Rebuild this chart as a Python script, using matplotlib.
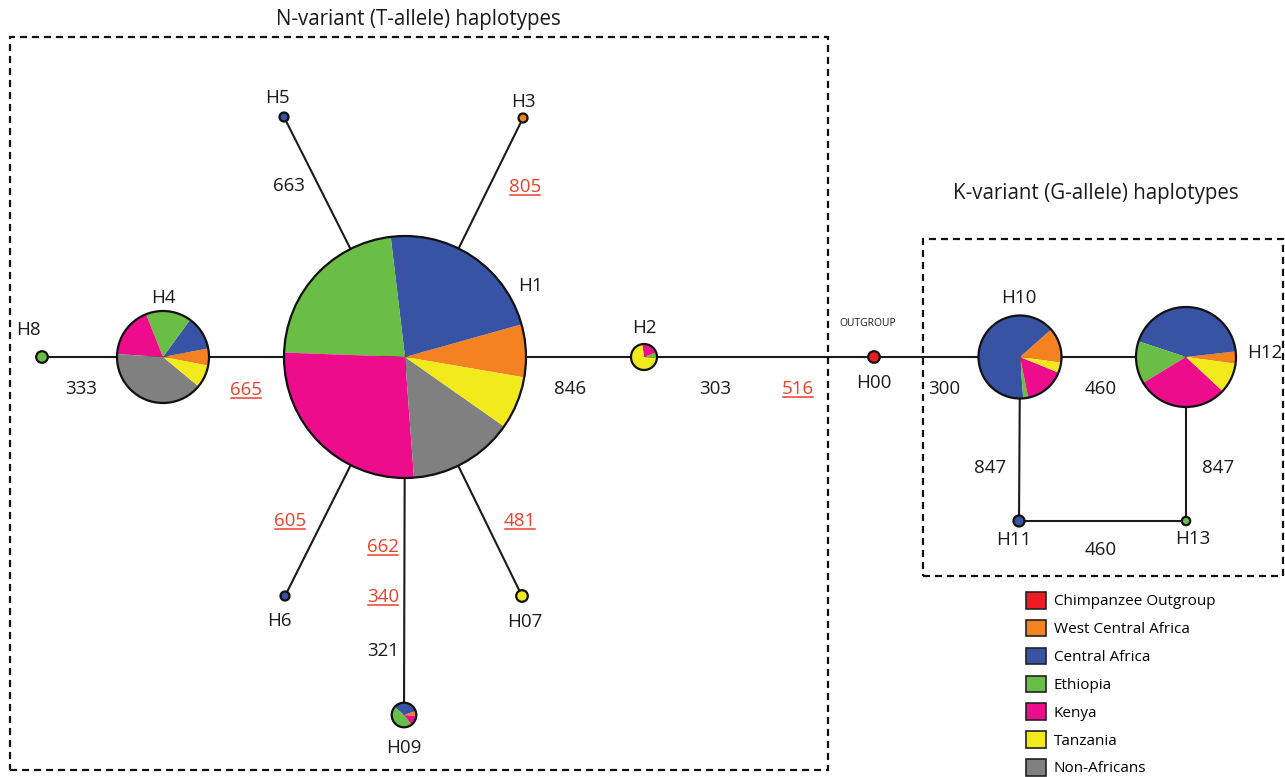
import matplotlib
matplotlib.use("Agg")
import matplotlib.pyplot as plt
from matplotlib.patches import Circle, Rectangle, Patch

plt.rcParams['font.family'] = ['Open Sans', 'DejaVu Sans']

W, H = 1285, 777

# ---------------------------------------------------------------- data
populations = ['Chimpanzee Outgroup', 'West Central Africa', 'Central Africa',
               'Ethiopia', 'Kenya', 'Tanzania', 'Non-Africans']
pop_colors = ['#ED1C24', '#F58220', '#3953A4', '#6ABD45', '#EC0C8C',
              '#F2EA1B', '#808080']
# order in which population wedges are laid around each pie
wedge_order = ['West Central Africa', 'Central Africa', 'Ethiopia', 'Kenya',
               'Non-Africans', 'Tanzania', 'Chimpanzee Outgroup']

haplotypes = ['H1', 'H2', 'H3', 'H4', 'H5', 'H6', 'H07', 'H8', 'H09',
              'H00', 'H10', 'H11', 'H12', 'H13']
# sample counts per population, columns follow `populations`
counts = {
    'H1':  [0, 5, 16, 16, 19, 5, 10],
    'H2':  [0, 0, 0, 1, 3, 10, 0],
    'H3':  [0, 1, 0, 0, 0, 0, 0],
    'H4':  [0, 3, 6, 8, 9, 4, 20],
    'H5':  [0, 0, 1, 0, 0, 0, 0],
    'H6':  [0, 0, 1, 0, 0, 0, 0],
    'H07': [0, 0, 0, 0, 0, 1, 0],
    'H8':  [0, 0, 0, 1, 0, 0, 0],
    'H09': [0, 1, 5, 7, 2, 0, 0],
    'H00': [1, 0, 0, 0, 0, 0, 0],
    'H10': [0, 7, 33, 1, 8, 2, 0],
    'H11': [0, 0, 1, 0, 0, 0, 0],
    'H12': [0, 2, 22, 7, 15, 5, 0],
    'H13': [0, 0, 0, 1, 0, 0, 0],
}

# network edges with the mutation positions that separate the haplotypes
edges = [('H8', 'H4'), ('H4', 'H1'), ('H1', 'H5'), ('H1', 'H3'),
         ('H1', 'H6'), ('H1', 'H07'), ('H1', 'H09'), ('H1', 'H2'),
         ('H2', 'H00'), ('H00', 'H10'), ('H10', 'H12'), ('H10', 'H11'),
         ('H12', 'H13'), ('H11', 'H13')]
mutation_labels = ['333', '665', '663', '805', '605', '481', '662', '340',
                   '321', '846', '303', '516', '300', '460', '847', '847',
                   '460']
mutation_is_nonsyn = [False, True, False, True, True, True, True, True,
                      False, False, False, True, False, False, False, False,
                      False]

# ---------------------------------------------------------------- layout
node_xy = {
    'H1': (405, 357), 'H2': (644, 357), 'H3': (523, 118), 'H4': (163, 357),
    'H5': (284, 117), 'H6': (285, 596), 'H07': (522, 596), 'H8': (42, 357),
    'H09': (404, 715), 'H00': (874, 357), 'H10': (1020, 357),
    'H11': (1019, 521), 'H12': (1186, 357), 'H13': (1186, 521),
}
node_r = {
    'H1': 121, 'H2': 13, 'H3': 4.5, 'H4': 46, 'H5': 4.5, 'H6': 4.5,
    'H07': 5.8, 'H8': 5.8, 'H09': 12.3, 'H00': 5.8, 'H10': 41.5,
    'H11': 5.5, 'H12': 50, 'H13': 4.2,
}
node_start = {'H1': -9.7, 'H2': -5, 'H4': -10.8, 'H09': -5,
              'H10': -7.9, 'H12': -7.7}
node_label_xy = {
    'H1': (530, 286), 'H2': (644, 328), 'H3': (523, 102), 'H4': (163, 298),
    'H5': (277, 98), 'H6': (279, 621), 'H07': (525, 622), 'H8': (28, 330),
    'H09': (404, 748), 'H00': (874, 383), 'H10': (1019, 298),
    'H11': (1014, 540), 'H12': (1265, 353), 'H13': (1193, 539),
}
mutation_label_xy = [(81, 389), (246, 390), (289, 186), (525, 187),
                     (290, 521), (520, 521), (383, 547), (383, 597),
                     (383, 651), (570, 389), (715, 389), (798, 389),
                     (944, 389), (1101, 389), (990, 468), (1218, 468),
                     (1101, 550)]


def fy(py):
    """Top-down layout coordinate to the axes' bottom-up y."""
    return H - py


fig = plt.figure(figsize=(W / 100, H / 100), dpi=100)
ax = fig.add_axes([0, 0, 1, 1])

ink = '#1c1a1b'

# edges
for a, b in edges:
    (x0, y0), (x1, y1) = node_xy[a], node_xy[b]
    ax.plot([x0, x1], [fy(y0), fy(y1)], color=ink, lw=1.5,
            zorder=1, solid_capstyle='butt')

# haplotype pies
for h in haplotypes:
    vals = [counts[h][populations.index(p)] for p in wedge_order]
    cols = [pop_colors[populations.index(p)] for p in wedge_order]
    keep = [(v, c) for v, c in zip(vals, cols) if v > 0]
    x, y = node_xy[h]
    ax.pie([v for v, _ in keep], colors=[c for _, c in keep],
           center=(x, fy(y)), radius=node_r[h],
           startangle=node_start.get(h, 0), counterclock=True,
           wedgeprops=dict(linewidth=0, zorder=3), frame=True)
    ax.add_patch(Circle((x, fy(y)), node_r[h], fill=False,
                        edgecolor='#111111', lw=1.6, zorder=4))

# node labels
for h in haplotypes:
    lx, ly = node_label_xy[h]
    ax.text(lx, fy(ly), h, ha='center', va='center', fontsize=13.5,
            color=ink, zorder=5)
ax.text(868, fy(324), 'OUTGROUP', ha='center', va='center', fontsize=7.5,
        color=ink)

# mutation labels
red = '#E8432D'
underlined = []
for txt, (lx, ly), ns in zip(mutation_labels, mutation_label_xy,
                             mutation_is_nonsyn):
    t = ax.text(lx, fy(ly), txt, ha='center', va='center', fontsize=13.5,
                color=red if ns else ink)
    if ns:
        underlined.append(t)

# group titles and dashed frames
ax.text(418, fy(20), 'N-variant (T-allele) haplotypes', ha='center',
        va='center', fontsize=14.8, color=ink)
ax.text(1096, fy(193), 'K-variant (G-allele) haplotypes', ha='center',
        va='center', fontsize=14.8, color=ink)
for (x0, y0, x1, y1) in [(10, 37, 828, 770), (923, 239, 1283, 576)]:
    ax.add_patch(Rectangle((x0, fy(y1)), x1 - x0, y1 - y0, fill=False,
                           edgecolor='#111111', lw=1.6,
                           linestyle=(0, (3.2, 2.2)), zorder=2))

# legend
handles = [Patch(facecolor=c, edgecolor='#222222', lw=1.2, label=p)
           for p, c in zip(populations, pop_colors)]
ax.legend(handles=handles, loc='upper left', bbox_to_anchor=(1026, fy(592)),
          bbox_transform=ax.transData, frameon=False, fontsize=11,
          handlelength=1.3, handleheight=1.3, handletextpad=0.5,
          labelspacing=0.68, borderpad=0, borderaxespad=0)

ax.set_xlim(0, W)
ax.set_ylim(0, H)
ax.set_aspect('equal')
ax.set_axis_off()

# underline the non-synonymous positions
fig.canvas.draw()
inv = ax.transData.inverted()
for t in underlined:
    bb = t.get_window_extent().transformed(inv)
    ax.plot([bb.x0 + 1, bb.x1 - 1], [bb.y0 + 1.5, bb.y0 + 1.5], color=red,
            lw=1.1)

fig.savefig('out.png', dpi=100, facecolor='white')
